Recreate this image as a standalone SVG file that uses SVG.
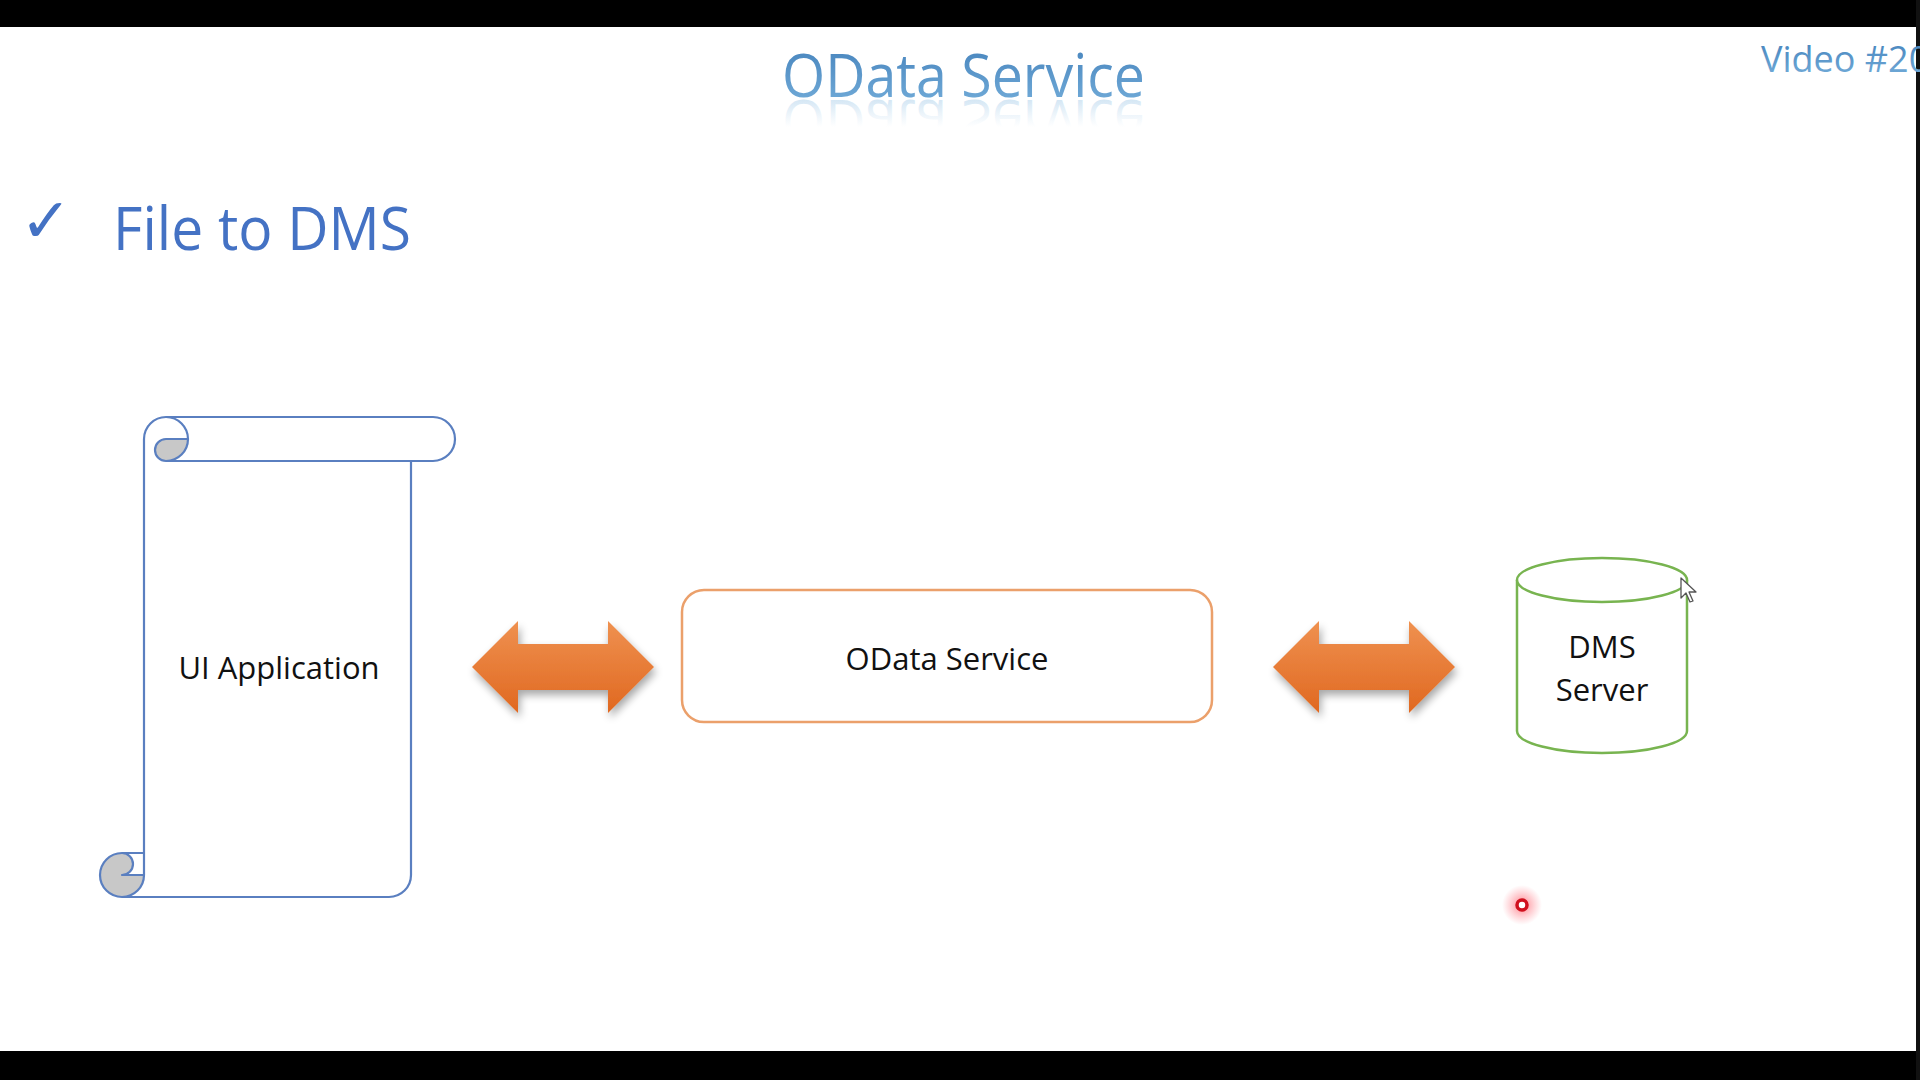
<svg xmlns="http://www.w3.org/2000/svg" width="1920" height="1080" viewBox="0 0 1920 1080">
  <defs>
    <linearGradient id="titleGrad" x1="0" y1="0" x2="0" y2="1">
      <stop offset="0" stop-color="#3f7db8"/>
      <stop offset="1" stop-color="#79b2dd"/>
    </linearGradient>
    <linearGradient id="reflGrad" x1="0" y1="0" x2="0" y2="1">
      <stop offset="0" stop-color="#9cc6e6" stop-opacity="0"/>
      <stop offset="0.45" stop-color="#9cc6e6" stop-opacity="0"/>
      <stop offset="1" stop-color="#7fb5df" stop-opacity="0.6"/>
    </linearGradient>
    <linearGradient id="arrowGrad" x1="0" y1="0" x2="0" y2="1">
      <stop offset="0" stop-color="#ef9150"/>
      <stop offset="1" stop-color="#e06820"/>
    </linearGradient>
    <filter id="shadow" x="-20%" y="-20%" width="140%" height="150%">
      <feGaussianBlur in="SourceAlpha" stdDeviation="4"/>
      <feOffset dx="2" dy="5" result="b"/>
      <feComponentTransfer><feFuncA type="linear" slope="0.35"/></feComponentTransfer>
      <feMerge><feMergeNode/><feMergeNode in="SourceGraphic"/></feMerge>
    </filter>
    <radialGradient id="laserGlow">
      <stop offset="0" stop-color="#ff3040" stop-opacity="0.6"/>
      <stop offset="1" stop-color="#ff6070" stop-opacity="0"/>
    </radialGradient>
    <style>
      .label { font-family: "Open Sans", "DejaVu Sans", sans-serif; font-size: 31px; fill: #111111; text-anchor: middle; }
      .scroll { fill: none; stroke: #5a7fc0; stroke-width: 2.2; stroke-linejoin: round; }
      .curl { fill: #c8c8c8; stroke: none; }
      .arrow { fill: url(#arrowGrad); filter: url(#shadow); }
    </style>
  </defs>

  <rect width="1920" height="1080" fill="#ffffff"/>
  <rect x="0" y="0" width="1920" height="27" fill="#000000"/>
  <rect x="0" y="1051" width="1920" height="29" fill="#000000"/>
  <rect x="1916" y="0" width="4" height="1080" fill="#111111"/>

  <!-- Title with reflection -->
  <g id="title">
    <text x="782" y="-100" textLength="363" lengthAdjust="spacingAndGlyphs" font-family="Open Sans, DejaVu Sans, sans-serif" font-size="60" fill="url(#reflGrad)" transform="scale(1,-1)">OData Service</text>
    <text x="782" y="97" textLength="363" lengthAdjust="spacingAndGlyphs" font-family="Open Sans, DejaVu Sans, sans-serif" font-size="60" fill="url(#titleGrad)">OData Service</text>
  </g>
  <g id="video-label">
    <text x="1761" y="72" font-family="Open Sans, DejaVu Sans, sans-serif" font-size="36" fill="url(#titleGrad)">Video #20</text>
  </g>

  <!-- Bullet -->
  <g id="bullet">
    <text x="20" y="242" font-family="DejaVu Sans, sans-serif" font-size="62" font-weight="bold" fill="#4472c4">✓</text>
    <text x="113" y="250" textLength="298" lengthAdjust="spacingAndGlyphs" font-family="Open Sans, DejaVu Sans, sans-serif" font-size="60" fill="#4472c4">File to DMS</text>
  </g>

  <!-- UI Application scroll -->
  <g id="ui-application">
    <path d="M144 853 L144 439 A22 22 0 0 1 166 417 L433 417 A22 22 0 0 1 433 461 L411 461 L411 875 A22 22 0 0 1 389 897 L122 897 A22 22 0 0 1 122 853 Z" fill="#ffffff" stroke="none"/>
    <path class="curl" d="M188 439 A22 22 0 0 1 166 461 A11 11 0 0 1 166 439 Z"/>
    <path class="curl" d="M144 875 A22 22 0 1 1 122 853 A11 11 0 0 1 122 875 Z"/>
    <path class="scroll" d="M144 853 L144 439 A22 22 0 0 1 166 417 L433 417 A22 22 0 0 1 433 461 L411 461 L411 875 A22 22 0 0 1 389 897 L122 897 A22 22 0 0 1 122 853 Z"/>
    <path class="scroll" d="M166 417 A22 22 0 0 1 166 461 A11 11 0 0 1 166 439 L188 439"/>
    <path class="scroll" d="M411 461 L166 461"/>
    <path class="scroll" d="M122 853 A11 11 0 0 1 122 875 L144 875"/>
    <path class="scroll" d="M122 897 A22 22 0 0 0 144 875 L144 853"/>
    <text class="label" x="279" y="679">UI Application</text>
  </g>

  <!-- OData Service box -->
  <g id="odata-service">
    <rect x="682" y="590" width="530" height="132" rx="22" ry="22" fill="#ffffff" stroke="#eba06b" stroke-width="2.5"/>
    <text class="label" x="947" y="670">OData Service</text>
  </g>

  <!-- DMS Server cylinder -->
  <g id="dms-server">
    <path d="M1517 580 L1517 731 A85 22 0 0 0 1687 731 L1687 580" fill="#ffffff" stroke="#78b450" stroke-width="2.5"/>
    <ellipse cx="1602" cy="580" rx="85" ry="22" fill="#ffffff" stroke="#78b450" stroke-width="2.5"/>
    <text class="label" x="1602" y="658">DMS</text>
    <text class="label" x="1602" y="701">Server</text>
  </g>

  <!-- Connectors: double-headed block arrows -->
  <g id="connectors">
    <polygon class="arrow" points="472,667 518,621 518,644 608,644 608,621 654,667 608,713 608,690 518,690 518,713"/>
    <polygon class="arrow" points="1273,667 1319,621 1319,644 1409,644 1409,621 1455,667 1409,713 1409,690 1319,690 1319,713"/>
  </g>

  <!-- Mouse cursor -->
  <g id="cursor">
    <polygon points="1681,578 1681,598 1686,593 1690,602 1693,601 1689,592 1696,592" fill="#ffffff" stroke="#555555" stroke-width="1.3" stroke-linejoin="round"/>
  </g>

  <!-- Laser pointer dot -->
  <g id="laser">
    <circle cx="1522" cy="905" r="20" fill="url(#laserGlow)"/>
    <circle cx="1522" cy="905" r="5" fill="#ffffff" stroke="#d0101e" stroke-width="3.5"/>
  </g>
</svg>
